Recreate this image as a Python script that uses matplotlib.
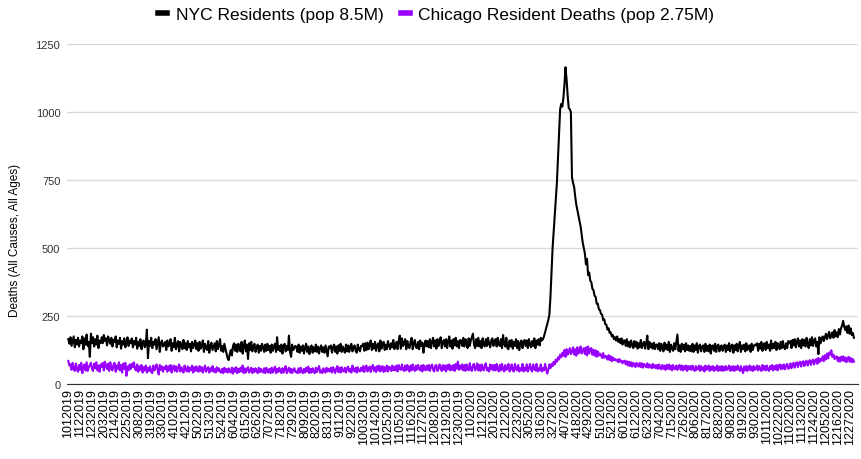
import matplotlib
matplotlib.use('Agg')
import matplotlib.pyplot as plt
import pandas as pd

plt.rcParams['font.family'] = ['Liberation Sans', 'DejaVu Sans']

# daily deaths (one row per month)
nyc_2019 = [
    165,148,172,140,158,175,135,162,145,170,138,160,150,175,128,168,145,182,140,155,100,185,150,172,138,165,145,178,132,160,150,
    172,150,180,158,168,142,175,160,148,170,138,162,155,175,135,160,148,170,130,158,145,168,135,155,172,140,160,150,
    168,135,158,145,170,130,155,140,165,128,152,160,135,148,200,95,158,140,170,132,155,145,165,128,150,172,118,150,160,138,145,
    155,125,160,138,148,165,122,150,135,170,128,145,158,120,155,140,128,162,132,150,125,158,135,148,120,155,132,145,160,128,
    150,122,155,130,142,160,118,148,132,125,158,115,140,152,125,138,150,120,158,128,145,165,122,140,118,148,130,112,95,88,110,
    125,105,140,150,122,145,118,148,128,120,155,112,140,160,120,145,92,150,125,155,120,140,148,118,135,145,115,140,122,148,
    135,118,145,122,148,125,140,115,145,122,138,148,118,172,125,140,120,145,112,138,148,120,140,125,178,118,100,145,125,132,140,
    135,118,145,115,138,122,142,112,135,148,118,138,110,132,142,115,135,120,145,118,138,112,132,142,118,135,115,142,122,102,138,
    132,142,115,135,145,118,138,112,142,122,148,118,138,125,115,145,120,142,118,138,148,120,135,142,122,115,145,128,120,140,
    140,148,122,150,125,152,128,142,160,125,148,130,155,122,142,150,120,160,130,148,155,125,145,128,158,142,128,150,135,162,128,
    145,155,128,160,178,130,168,140,148,165,128,158,138,132,155,170,128,150,162,135,132,155,128,160,140,152,115,145,160,138,
    158,135,165,132,155,170,138,160,130,165,140,158,172,132,155,162,138,165,132,158,175,138,160,130,165,142,170,138,158,132,162,
]
nyc_2020 = [
    160,140,170,138,165,155,132,168,140,160,172,185,145,132,165,140,170,138,158,132,168,145,138,165,140,170,148,135,160,168,140,
    158,165,138,170,145,140,165,132,180,148,138,170,132,128,160,138,162,130,155,140,165,132,158,125,150,160,132,155,162,
    140,160,132,165,145,135,158,140,168,132,160,145,165,142,170,160,165,175,190,205,220,235,255,320,410,500,560,620,680,740,830,
    920,1010,1030,1020,1050,1100,1165,1120,1060,1015,1010,1000,760,740,725,690,660,640,620,600,580,550,520,500,480,440,460,400,410,380,
    375,350,345,325,320,295,295,275,272,258,255,235,238,220,218,200,205,188,190,175,180,165,172,160,175,155,165,150,168,145,160,
    160,140,165,138,155,135,160,142,132,158,138,155,130,150,135,162,132,148,155,130,150,178,128,155,135,148,130,152,128,145,
    145,128,150,122,148,132,120,152,128,145,125,155,118,145,132,122,150,128,155,182,122,142,118,148,128,145,120,150,125,142,122,
    140,120,148,118,142,125,150,115,140,145,120,138,142,118,148,122,140,120,145,112,140,142,122,148,118,140,145,120,138,142,122,
    138,145,118,142,125,150,120,140,145,115,142,125,148,120,140,155,118,142,128,145,120,150,125,140,142,118,148,125,140,145,
    142,150,122,148,130,155,122,145,150,125,155,132,145,122,160,130,148,132,155,125,150,145,128,155,132,158,135,128,150,132,158,
    150,158,132,162,142,165,135,155,168,138,160,132,165,142,162,138,170,145,132,165,142,172,140,160,168,138,155,110,172,150,
    165,175,158,172,185,165,178,192,168,180,190,170,198,175,190,172,202,182,205,215,232,210,198,212,188,215,185,205,180,188,170,
]
chi_2019 = [
    85,68,72,52,78,58,48,75,55,45,70,52,78,40,65,72,50,80,48,62,70,78,55,48,75,58,80,50,68,45,72,
    62,78,50,82,68,55,75,48,80,58,50,72,78,45,68,55,80,50,70,42,75,55,78,30,65,50,72,55,
    75,62,80,55,50,72,45,65,52,70,42,62,50,68,42,60,48,65,45,40,68,50,62,72,52,35,70,52,65,45,62,
    55,68,45,65,50,70,42,60,68,48,65,45,60,72,46,62,50,42,68,55,46,65,45,60,50,68,42,62,48,65,
    50,45,66,48,62,42,55,68,45,55,62,42,58,48,66,45,55,42,62,48,58,45,42,56,40,60,45,55,42,58,46,
    42,60,38,58,45,62,40,56,44,60,46,68,40,58,42,55,62,42,50,60,40,56,44,58,48,40,60,44,56,46,
    42,58,40,60,46,42,56,40,60,42,52,64,40,56,44,60,48,40,58,42,56,66,40,50,60,42,56,40,52,58,44,
    46,40,58,42,60,46,40,56,42,60,46,64,40,56,42,58,46,40,60,44,56,66,42,50,40,58,46,42,60,46,56,
    46,60,42,62,50,40,58,66,44,60,42,62,48,46,60,42,58,64,46,56,42,68,52,46,60,42,62,48,46,60,
    48,66,44,62,68,46,58,64,44,62,70,48,62,44,66,50,68,46,60,66,44,62,48,68,46,64,58,48,68,50,64,
    50,68,46,70,56,52,72,54,48,68,50,70,56,46,68,50,72,56,48,68,52,70,56,50,68,46,70,54,50,68,
    52,70,48,66,72,52,46,68,70,48,56,72,58,48,70,52,68,46,70,54,72,50,66,52,70,48,74,56,82,52,68,
]
chi_2020 = [
    55,72,50,70,48,72,56,50,76,54,48,70,74,50,58,76,50,70,48,72,56,50,70,76,50,58,46,72,54,70,50,
    70,50,74,56,46,70,50,74,56,46,70,52,58,74,46,56,72,50,46,74,56,50,70,46,58,50,74,46,60,
    50,72,46,58,74,52,46,72,56,50,74,46,58,50,72,46,58,50,74,56,38,52,72,58,74,66,82,72,90,82,98,
    90,108,98,115,104,125,100,128,108,118,132,110,120,135,108,128,104,135,112,118,138,112,122,132,110,135,105,138,112,128,
    132,108,126,104,124,100,120,104,112,106,96,114,96,104,100,90,106,88,102,84,98,88,92,86,90,80,92,82,86,76,84,
    86,72,84,68,82,66,80,64,78,72,62,78,70,64,78,62,76,60,74,68,62,76,60,72,64,58,74,60,70,58,
    70,56,72,58,54,70,56,68,52,70,56,72,54,68,50,70,56,54,68,52,66,70,52,68,50,66,54,68,48,66,54,
    66,52,68,54,48,66,52,56,68,48,66,52,62,46,68,52,56,68,48,64,52,66,48,62,52,68,48,64,50,66,48,
    64,50,66,52,56,68,48,64,50,66,48,64,52,68,56,48,66,52,40,64,50,66,48,62,68,50,64,48,66,52,
    56,68,50,66,54,48,70,52,66,50,68,54,48,66,54,70,50,66,54,70,50,66,72,54,70,56,72,54,68,74,56,
    60,76,58,72,78,60,76,80,62,78,82,64,80,84,66,80,86,68,82,88,70,84,90,72,86,92,74,96,80,92,
    86,102,84,106,90,112,94,116,108,124,100,108,92,96,102,84,98,82,100,86,102,84,98,80,94,100,82,96,80,92,82,
]

nyc = nyc_2019 + nyc_2020
chi = chi_2019 + chi_2020
dates = pd.date_range('2019-01-01', '2020-12-31', freq='D')
assert len(nyc) == len(dates) and len(chi) == len(dates), (len(nyc), len(chi), len(dates))

days = list(range(len(dates)))
tick_pos = days[::11]
tick_lbl = [f'{d.month}{d.day:02d}{d.year}' for d in dates[::11]]

fig = plt.figure(figsize=(8.62, 4.6), dpi=100)
ax = fig.add_axes([0.078, 0.163, 0.917, 0.739])

ax.plot(days, nyc, color='#000000', lw=1.5, label='NYC Residents (pop 8.5M)')
ax.plot(days, chi, color='#9900ff', lw=1.5, label='Chicago Resident Deaths (pop 2.75M)')

ax.set_xlim(-1, 733.5)
ax.set_ylim(0, 1250)
ax.set_yticks([0, 250, 500, 750, 1000, 1250])
ax.tick_params(axis='y', labelsize=8, length=0, pad=5, colors='#333333')
ax.set_xticks(tick_pos)
ax.set_xticklabels(tick_lbl, rotation=90, fontsize=9)
ax.tick_params(axis='x', length=0, pad=3)
ax.grid(axis='y', color='#d9d9d9', lw=1)
ax.set_axisbelow(True)
for s in ['top', 'right', 'left']:
    ax.spines[s].set_visible(False)
ax.spines['bottom'].set_color('#333333')
ax.set_ylabel('Deaths (All Causes, All Ages)', fontsize=8.5)
ax.yaxis.set_label_coords(-0.058, 0.426)

leg = ax.legend(loc='center', bbox_to_anchor=(0.467, 1.088), ncol=2, frameon=False,
                fontsize=12.5, handlelength=0.5, handletextpad=0.5, columnspacing=1.0)
for h in leg.get_lines():
    h.set_linewidth(4)

fig.savefig('out.png', dpi=100)
